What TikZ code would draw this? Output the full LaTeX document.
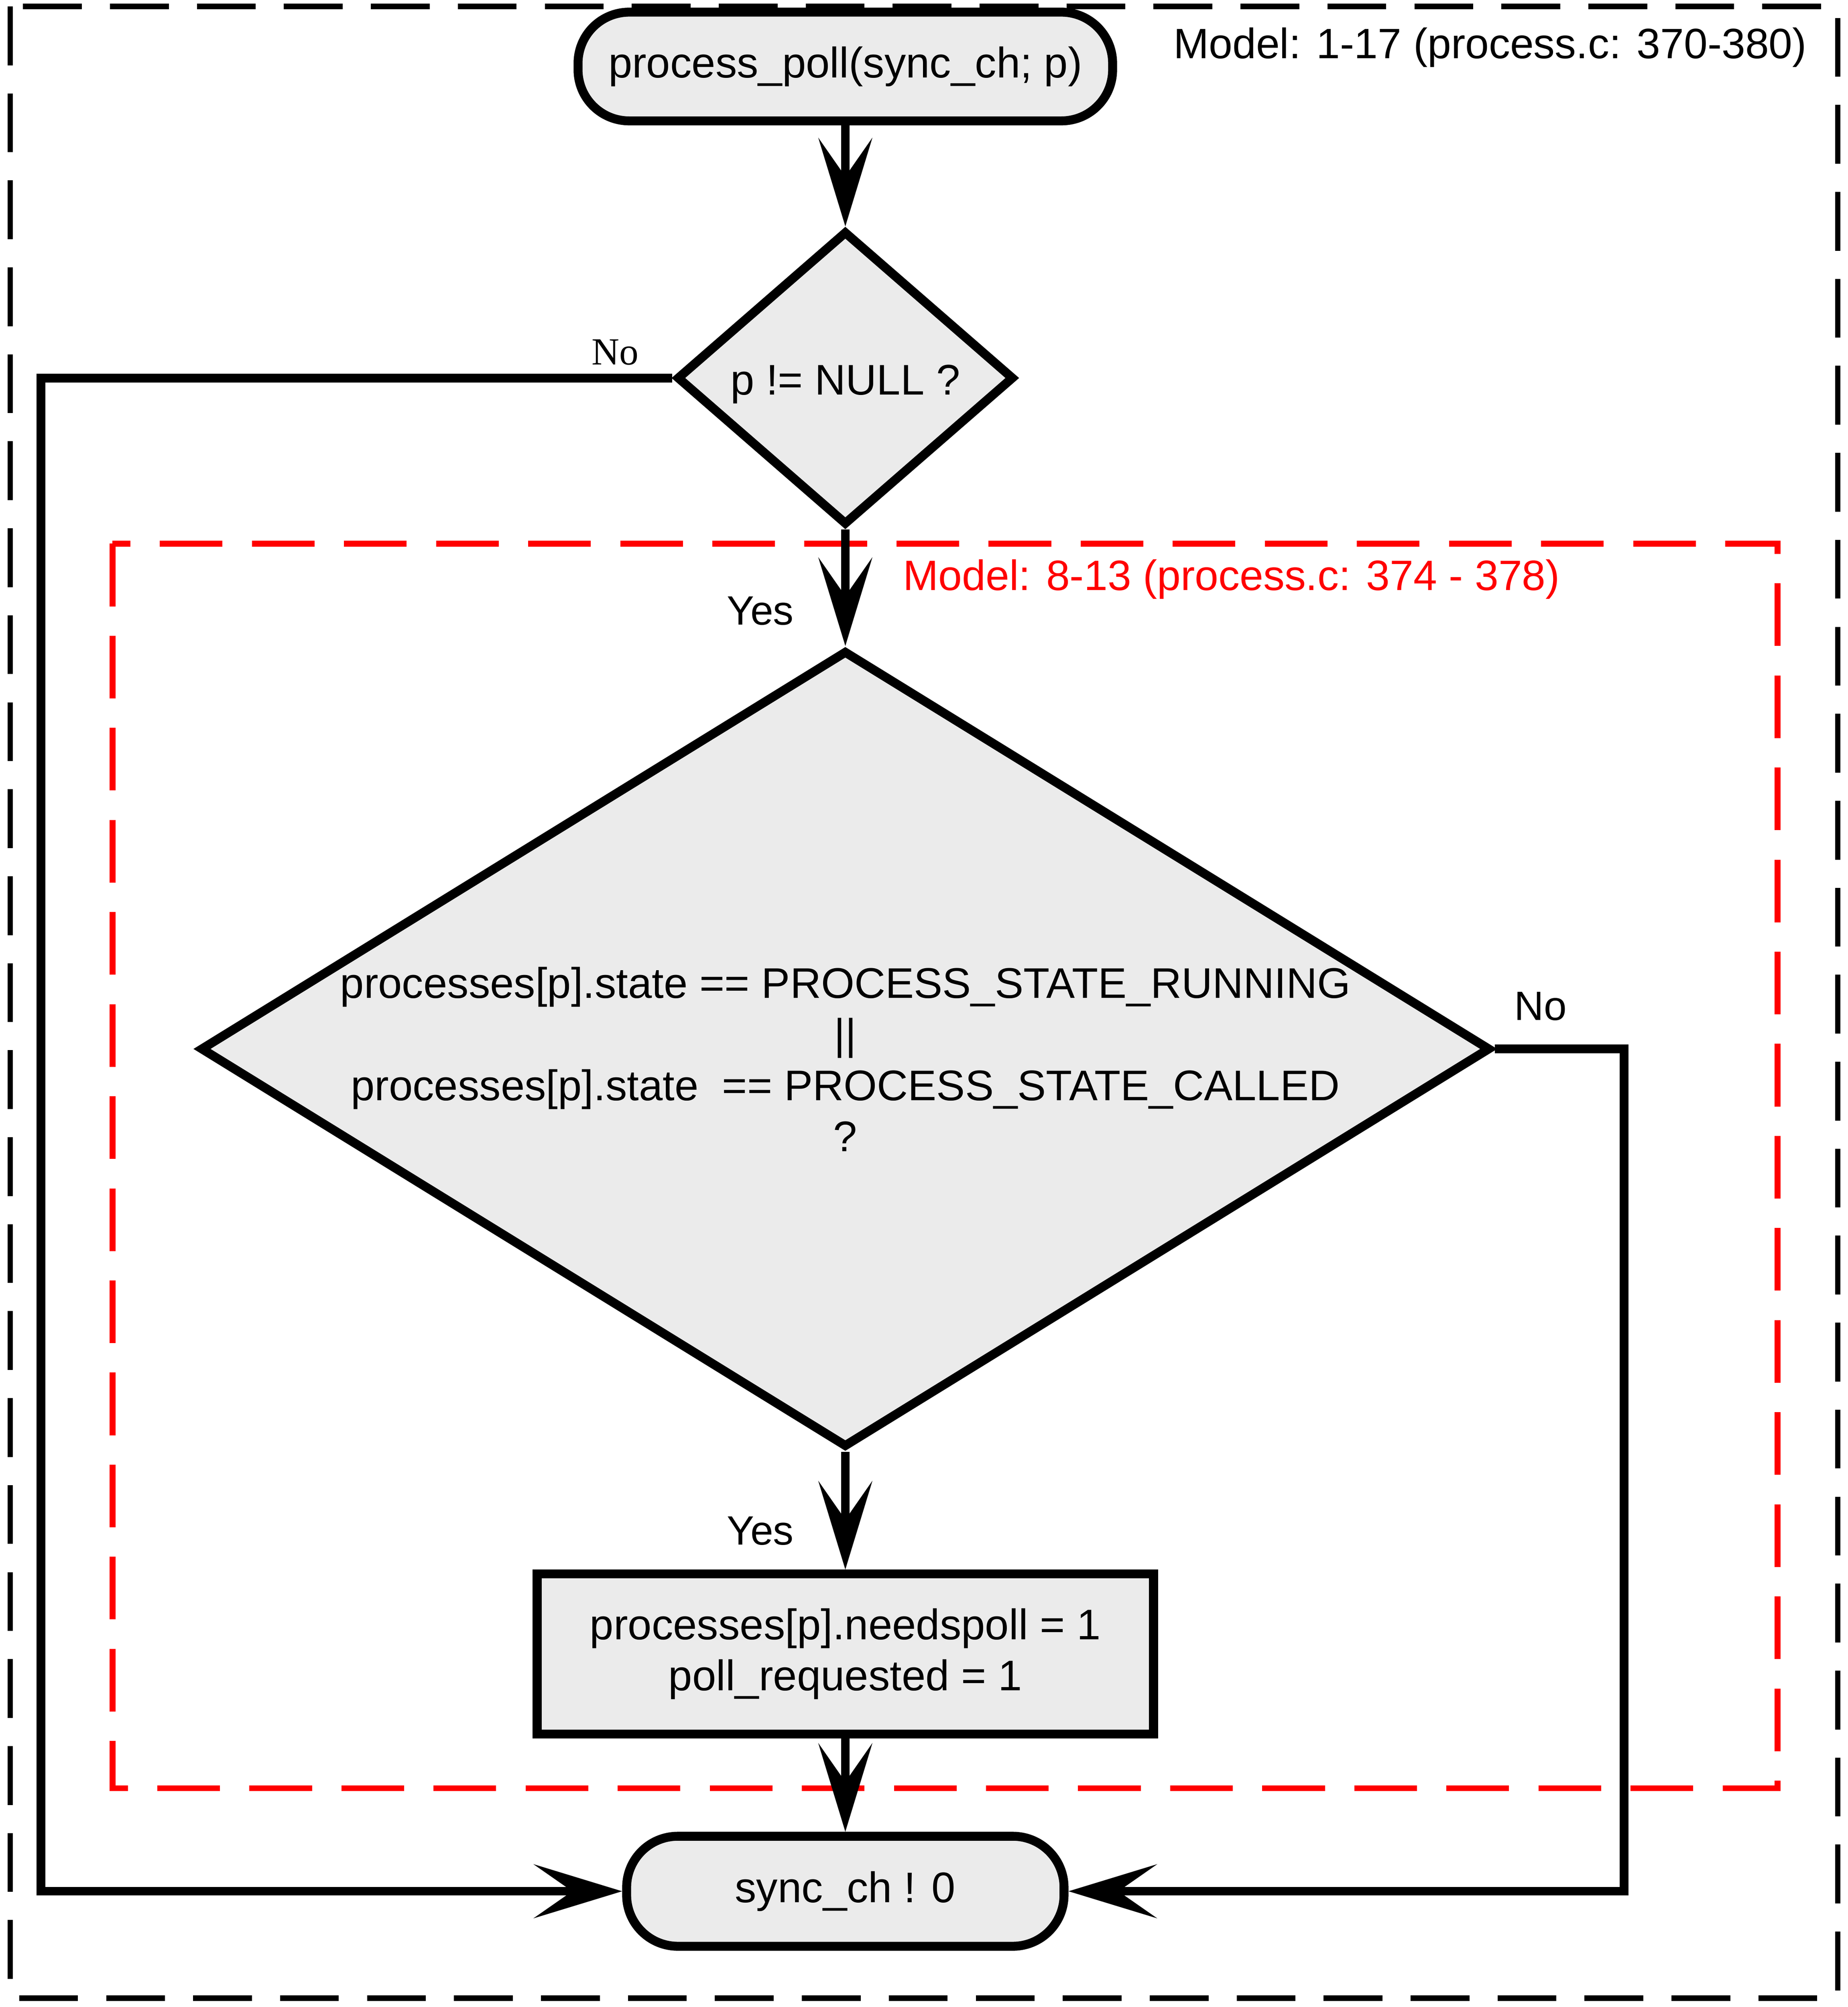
\documentclass[tikz,border=0pt]{standalone}
\usepackage{fontspec}
\setmainfont{Liberation Sans}
\newfontfamily\serifno{Liberation Serif}
\usetikzlibrary{positioning, arrows.meta, shapes.geometric}
\definecolor{cinza}{HTML}{EBEBEB}
\definecolor{verm}{HTML}{FF0000}

\begin{document}
\begin{tikzpicture}[x=1pt, y=-1pt,
        term/.style={draw, rectangle, rounded corners=40pt, fill=cinza, line width=7pt, minimum width=418pt, minimum height=85pt, font=\fontsize{33.5}{40}\selectfont},
        decision/.style={draw, diamond, fill=cinza, line width=7pt, inner sep=0pt, aspect=1},
        dtext/.style={align=center, inner sep=0pt, font=\fontsize{33.5}{40}\selectfont},
        block/.style={draw, rectangle, fill=cinza, line width=7pt, minimum width=482pt, minimum height=125pt, align=center, font=\fontsize{33.5}{40}\selectfont},
        lbl/.style={inner sep=0pt, font=\fontsize{32}{38}\selectfont},
        linha/.style={line width=6.8pt},
        node distance=80pt, >={Stealth[length=69pt, width=42pt, inset=30pt]}]

    \useasboundingbox (0,0) rectangle (1445,1569);

    % Molduras
    \draw[line width=4.3pt, dash pattern=on 46pt off 22pt] (8,5) rectangle (1437,1562);
    \draw[verm, line width=4.5pt, dash pattern=on 49pt off 23pt] (88,425) rectangle (1390,1398);
    \node (titulo) [anchor=east, inner sep=0pt, font=\fontsize{33.2}{40}\selectfont] at (1413,37) {Model: 1-17 (process.c: 370-380)};
    \node (subtit) [anchor=west, inner sep=0pt, text=verm, font=\fontsize{33.2}{40}\selectfont] at (706,453) {Model: 8-13 (process.c: 374 - 378)};

    % Nós do diagrama
    \node (start) [term] at (661,52) {process\_poll(sync\_ch; p)};
    \node (dec1) [decision, minimum width=264pt, minimum height=230pt, below=79pt of start] {};
    \node (dec1txt) [dtext, yshift=-5pt] at (dec1) {p != NULL ?};
    \node (dec2) [decision, minimum width=1009pt, minimum height=623pt, below=91pt of dec1] {};
    \node (dec2txt) [dtext, yshift=-8pt] at (dec2) {processes[p].state == PROCESS\_STATE\_RUNNING\\ ||\\ processes[p].state\ \ == PROCESS\_STATE\_CALLED\\ ?};
    \node (upd) [block, below=92pt of dec2] {processes[p].needspoll = 1\\ poll\_requested = 1};
    \node (stop) [term, minimum width=342pt, minimum height=86pt, below=73pt of upd] {sync\_ch ! 0};

    % Pontos de desvio
    \coordinate (esq) at (32,0);
    \coordinate (dir) at (1270,0);

    % Conexões
    \draw[->, linha] (start) -- (dec1);
    \draw[->, linha] (dec1) -- node[lbl, pos=0.7, left=37pt] (yes1) {Yes} (dec2);
    \draw[->, linha] (dec2) -- node[lbl, pos=0.67, left=37pt] (yes2) {Yes} (upd);
    \draw[->, linha] (upd) -- (stop);

    % Desvios "No"
    \draw[->, linha] (dec1.west) -- (dec1.west -| esq) |- (stop.west);
    \node (no1) [lbl, font=\serifno\fontsize{30}{36}\selectfont, anchor=south east, xshift=-26pt, yshift=10pt] at (dec1.west) {No};
    \draw[->, linha] (dec2.east) -- (dec2.east -| dir) |- (stop.east);
    \node (no2) [lbl, anchor=south west, xshift=15pt, yshift=22pt] at (dec2.east) {No};

\end{tikzpicture}
\end{document}
